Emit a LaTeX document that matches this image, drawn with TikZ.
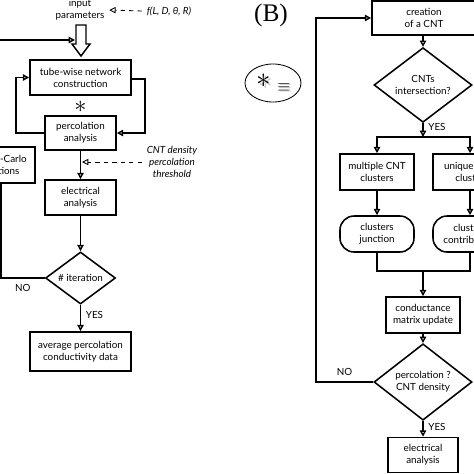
\documentclass[tikz,border=0pt]{standalone}
\usepackage{fontspec}
\setmainfont{Lato}
\newfontfamily\timesfont{Liberation Serif}
\usetikzlibrary{arrows.meta,positioning,shapes.geometric}

\begin{document}
\begin{tikzpicture}[
  x=0.025cm,y=-0.025cm,
  font=\fontsize{7}{8.5}\selectfont,
  >={Triangle[open,length=4.5pt,width=4.5pt]},
  box/.style={draw,rectangle,line width=1.1pt,align=center,inner sep=1pt},
  term/.style={box,rounded corners=10pt},
  decide/.style={draw,diamond,line width=1.1pt,align=center,inner sep=0pt},
  wire/.style={draw,line width=1pt},
  hint/.style={draw,dashed,line width=0.6pt},
  tag/.style={font=\fontsize{7}{8.5}\selectfont},
  note/.style={font=\fontsize{7}{8.5}\selectfont\itshape,align=center},
]

\useasboundingbox (0,0) rectangle (474,474);
\clip (0,0) rectangle (474,474);

%% =====================================================
%%  LEFT PANEL : whole simulation loop
%% =====================================================

% --- input ---
\node[align=center] (inp) at (80,10) {input\\parameters};
\node[note] (fpar) at (169,11) {f(L, D, θ, R)};
\draw[hint,->] (fpar.west) -- (inp.east);

% big hollow arrow into the construction step
\draw[line width=1pt,fill=white] (76,25) -- (86,25) -- (86,44) -- (90,44)
      -- (81,56) -- (72,44) -- (76,44) -- cycle;
\coordinate (bigarrow) at (75,40);

% --- network construction / percolation ---
\node[box,minimum width=2.525cm,minimum height=0.875cm] (tube) at (80.5,77.5)
     {tube-wise network\\construction};
\node[font=\fontsize{18}{18}\selectfont] (star) at (80.5,107) {$\ast$};
\node[box,minimum width=1.775cm,minimum height=0.85cm] (perc) at (80.5,133)
     {percolation\\analysis};

\coordinate (loopL) at (16,133);
\coordinate (loopR) at (145,79);
\draw[wire,->] (perc.west) -- (loopL) |- (tube.west);
\draw[wire,->] (tube.east |- loopR) -- (loopR) |- (perc.east);

% --- Monte-Carlo box (cut at left border) ---
\node[box,minimum width=1.8cm,minimum height=0.9cm] (mc) at (-1,165)
     {Monte-Carlo\\iterations};

% --- electrical analysis ---
\node[box,minimum width=1.775cm,minimum height=0.875cm] (elec) at (80.5,197.5)
     {electrical\\analysis};
\draw[wire,->] (perc.south) -- (elec.north);

\node[note] (thr) at (172,162) {CNT density\\percolation\\threshold};
\coordinate (thrhit) at (82,162);
\draw[hint,->] (thr.west) -- (thrhit);

% --- iteration check ---
\node[decide,minimum width=1.75cm,minimum height=1.075cm] (iter) at (80.5,278)
     {\# iteration};
\draw[wire,->] (elec.south) -- (iter.north);

\coordinate (noL) at (1,278);
\coordinate (topL) at (-1,40);
\draw[wire] (iter.west) -- node[tag,below=1pt]{NO} (noL) -- (noL |- mc.south);
\draw[wire,->] (mc.north) -- (topL) -- (bigarrow);

\node[box,minimum width=2.525cm,minimum height=0.975cm] (avg) at (80.5,351.5)
     {average percolation\\conductivity data};
\draw[wire,->] (iter.south) -- node[tag,right,pos=.4]{YES} (avg.north);

%% =====================================================
%%  RIGHT PANEL (B) : detail of the * step
%% =====================================================

\node[font=\timesfont\fontsize{18}{20}\selectfont] (lblB) at (271,15) {(B)};

\node[draw,ellipse,line width=0.6pt,fill=white,minimum width=1.4cm,
      minimum height=0.95cm] (eqv) at (273,83) {};
\node[text=gray!45,font=\fontsize{22}{22}\selectfont] at (265.5,82.5) {$\ast$};
\node[font=\fontsize{22}{22}\selectfont] (eqstar) at (264,81) {$\ast$};
\node[text=gray!45,font=\fontsize{13}{13}\selectfont] at (285.5,89) {$\equiv$};
\node[font=\fontsize{13}{13}\selectfont] (eqsign) at (284,88) {$\equiv$};

% --- creation / intersection ---
\node[box,minimum width=2.6cm,minimum height=0.85cm] (make) at (424,18)
     {creation\\of a CNT};
\node[decide,minimum width=2.45cm,minimum height=1.4cm] (isect) at (423,85)
     {CNTs\\intersection?};
\draw[wire,->] (make.south -| isect.north) -- (isect.north);

\coordinate (split) at (423,137);
\draw[wire,->] (isect.south) -- node[tag,right,pos=.3]{YES} (split);

% --- two branches ---
\node[box,minimum width=1.85cm,minimum height=0.9cm] (multi) at (377,172)
     {multiple CNT\\clusters};
\node[box,minimum width=1.85cm,minimum height=0.9cm] (uniq) at (470,172)
     {unique CNT\\cluster};
\draw[wire,->] (split) -| (multi.north);
\draw[wire,->] (split) -| (uniq.north);

\node[term,minimum width=1.85cm,minimum height=0.9cm] (junc) at (377,234)
     {clusters\\junction};
\node[term,minimum width=1.85cm,minimum height=0.9cm] (cont) at (470,234)
     {clusters\\contribution};
\draw[wire,->] (multi.south) -- (junc.north);
\draw[wire,->] (uniq.south) -- (cont.north);

\coordinate (merge) at (423,271);
\draw[wire] (junc.south) |- (merge);
\draw[wire] (cont.south) |- (merge);

% --- conductance / percolation check ---
\node[box,minimum width=1.85cm,minimum height=0.9cm] (cond) at (423,315)
     {conductance\\matrix update};
\draw[wire,->] (merge) -- (cond.north);

\node[decide,minimum width=2.45cm,minimum height=1.45cm] (chk) at (423,382)
     {percolation ?\\CNT density};
\draw[wire,->] (cond.south) -- (chk.north);

\coordinate (noR) at (316,382);
\draw[wire,->] (chk.west) -- node[tag,above=1pt]{NO} (noR) |- (make.west);

\node[box,minimum width=1.75cm,minimum height=0.875cm] (elec2) at (423,455)
     {electrical\\analysis};
\draw[wire,->] (chk.south) -- node[tag,right,pos=.35]{YES} (elec2.north);

\end{tikzpicture}
\end{document}
